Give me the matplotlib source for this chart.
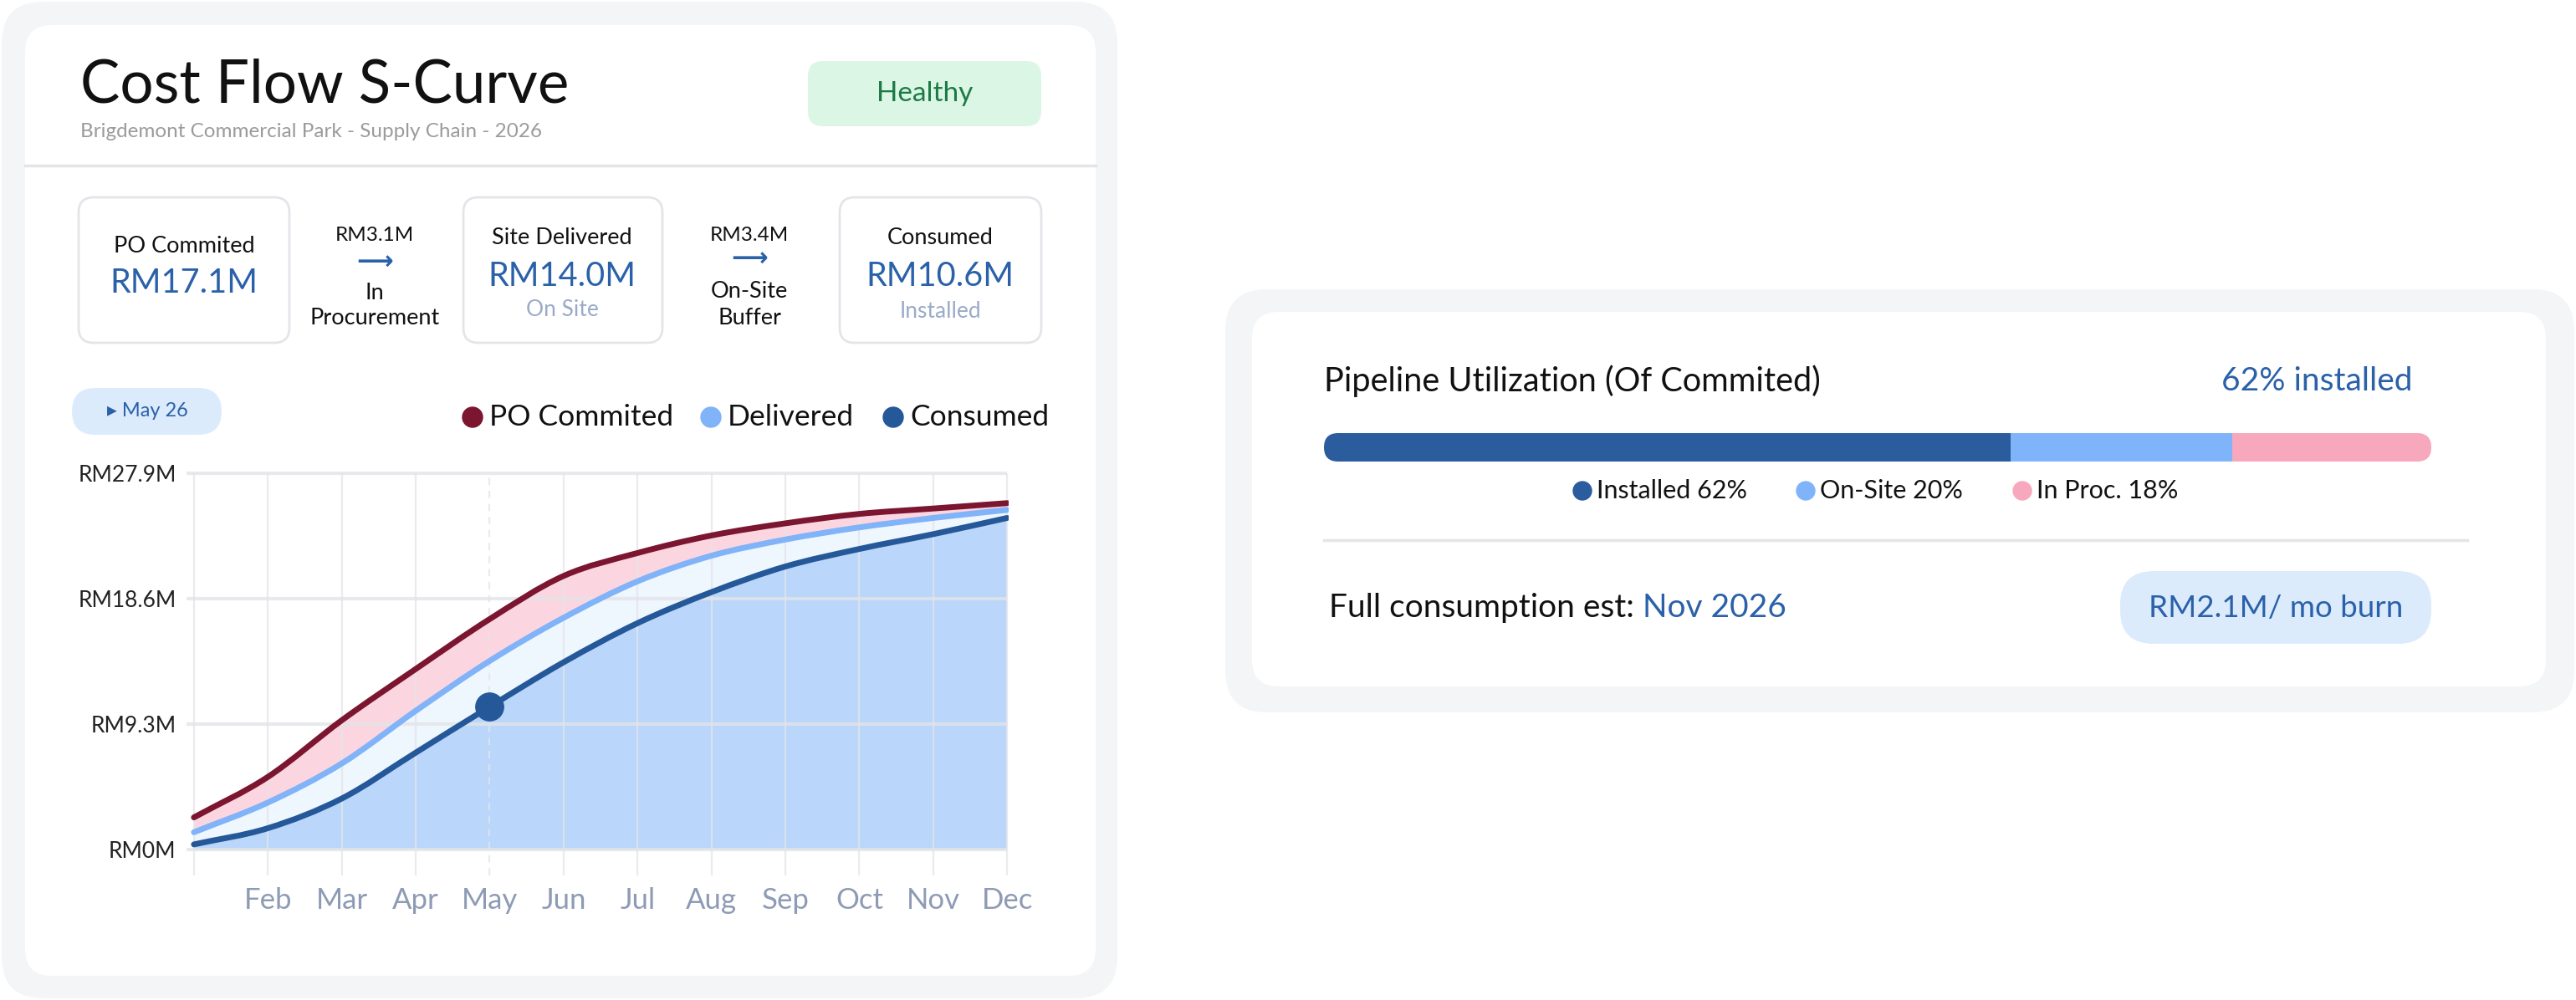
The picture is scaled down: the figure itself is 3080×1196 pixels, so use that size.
import numpy as np
import matplotlib
matplotlib.use("Agg")
import matplotlib.pyplot as plt
from matplotlib.patches import FancyBboxPatch, Circle, PathPatch
from matplotlib.path import Path

plt.rcParams['font.family'] = ['Lato', 'DejaVu Sans']

# ---- data ----
months = ['Jan', 'Feb', 'Mar', 'Apr', 'May', 'Jun', 'Jul', 'Aug', 'Sep', 'Oct', 'Nov', 'Dec']
po_committed = [2.4, 5.4, 9.6, 13.4, 17.1, 20.3, 22.0, 23.3, 24.2, 24.9, 25.3, 25.7]
delivered = [1.3, 3.5, 6.4, 10.3, 14.0, 17.2, 19.9, 21.8, 23.0, 23.9, 24.6, 25.2]
consumed = [0.4, 1.6, 3.8, 7.2, 10.6, 13.9, 16.8, 19.1, 21.0, 22.3, 23.4, 24.6]
y_ticks = [0, 9.3, 18.6, 27.9]
current_month = 4  # May
burn_rate = 2.1
full_consumption = 'Nov 2026'

# colours
C_PO = '#7b1530'
C_DEL = '#80b3f7'
C_CON = '#255899'
C_BLUE_TXT = '#2a61a9'

W, H = 3080, 1196
fig = plt.figure(figsize=(W / 100, H / 100), dpi=100)
fig.patch.set_facecolor('white')

# background axes in pixel units (y down)
bg = fig.add_axes([0, 0, 1, 1])
bg.set_xlim(0, W)
bg.set_ylim(H, 0)
bg.axis('off')


def rbox(x0, y0, x1, y1, r, fc, ec='none', lw=0):
    p = FancyBboxPatch((x0, y0), x1 - x0, y1 - y0,
                       boxstyle=f"round,pad=0,rounding_size={r}",
                       fc=fc, ec=ec, lw=lw)
    bg.add_patch(p)
    return p


def txt(x, y, s, size, color='#111111', ha='center', **kw):
    return bg.text(x, y, s, fontsize=size, color=color, ha=ha, va='center', **kw)


# ---- cards ----
rbox(2, 2, 1336, 1194, 50, '#f4f5f7')
rbox(30, 30, 1310, 1167, 32, 'white')
rbox(1465, 346, 3078, 852, 50, '#f4f5f7')
rbox(1497, 373, 3044, 821, 32, 'white')

# ---- left card header ----
txt(96, 102, 'Cost Flow S-Curve', 51, '#111111', ha='left')
txt(96, 157, 'Brigdemont Commercial Park - Supply Chain - 2026', 17.5, '#9b9b9b', ha='left')
rbox(966, 73, 1245, 151, 18, '#dcf6e6')
txt(1106, 112, 'Healthy', 24, '#1c7a45')
bg.plot([30, 1310], [198, 198], color='#e4e5e8', lw=2.5)

# KPI boxes
po_now = po_committed[current_month]
del_now = delivered[current_month]
con_now = consumed[current_month]
for (x0, x1) in [(94, 346), (554, 792), (1004, 1245)]:
    rbox(x0, 236, x1, 410, 18, 'white', ec='#e3e5e9', lw=2)

txt(220, 295, 'PO Commited', 19.5)
txt(220, 338, f'RM{po_now:.1f}M', 28.5, C_BLUE_TXT)

txt(448, 281, f'RM{po_now - del_now:.1f}M', 17.5)
txt(448, 314, '⟶', 22, C_BLUE_TXT, fontweight='bold')
txt(448, 350, 'In', 19.5)
txt(448, 381, 'Procurement', 19.5)

txt(672, 285, 'Site Delivered', 19.5)
txt(672, 330, f'RM{del_now:.1f}M', 28.5, C_BLUE_TXT)
txt(672, 371, 'On Site', 19, '#9aabc8')

txt(896, 281, f'RM{del_now - con_now:.1f}M', 17.5)
txt(896, 310, '⟶', 22, C_BLUE_TXT, fontweight='bold')
txt(896, 348, 'On-Site', 19.5)
txt(896, 381, 'Buffer', 19.5)

txt(1124, 285, 'Consumed', 19.5)
txt(1124, 330, f'RM{con_now:.1f}M', 28.5, C_BLUE_TXT)
txt(1124, 373, 'Installed', 19, '#9aabc8')

# month pill
rbox(86, 464, 265, 520, 28, '#dcebfc')
txt(176, 492, f'▸ {months[current_month]} 26', 17, C_BLUE_TXT)

# chart legend
for x, lab, c in [(585, 'PO Commited', C_PO), (870, 'Delivered', C_DEL), (1088, 'Consumed', C_CON)]:
    bg.add_patch(Circle((x - 20, 499), 12, color=c))
    txt(x, 499, lab, 25.5, ha='left')

# ---- S-curve axes ----
x_lo, x_hi = -0.1, 11.02
y_lo, y_hi = -1.9, 28.1
px_l, px_r, px_t, px_b = 223, 1206, 563, 1047
ax = fig.add_axes([px_l / W, 1 - px_b / H, (px_r - px_l) / W, (px_b - px_t) / H])
ax.set_xlim(x_lo, x_hi)
ax.set_ylim(y_lo, y_hi)
ax.patch.set_alpha(0)
for s in ax.spines.values():
    s.set_visible(False)

xs = np.arange(len(months), dtype=float)


def hermite_verts(x, y):
    x = np.asarray(x, float)
    y = np.asarray(y, float)
    m = np.gradient(y, x)
    verts = [(x[0], y[0])]
    for i in range(len(x) - 1):
        h = x[i + 1] - x[i]
        verts += [(x[i] + h / 3, y[i] + m[i] * h / 3),
                  (x[i + 1] - h / 3, y[i + 1] - m[i + 1] * h / 3),
                  (x[i + 1], y[i + 1])]
    return verts


def curve_path(x, y):
    v = hermite_verts(x, y)
    return Path(v, [Path.MOVETO] + [Path.CURVE4] * (len(v) - 1))


def band_path(x, upper, lower):
    v1 = hermite_verts(x, upper)
    v2 = hermite_verts(x[::-1], np.asarray(lower)[::-1])
    verts = v1 + v2 + [v1[0]]
    codes = ([Path.MOVETO] + [Path.CURVE4] * (len(v1) - 1) + [Path.LINETO]
             + [Path.CURVE4] * (len(v2) - 1) + [Path.CLOSEPOLY])
    return Path(verts, codes)


ax.add_patch(PathPatch(band_path(xs, consumed, np.zeros(len(xs))), fc='#bad6fa', ec='none', zorder=1))
ax.add_patch(PathPatch(band_path(xs, delivered, consumed), fc='#eef6fe', ec='none', zorder=1))
ax.add_patch(PathPatch(band_path(xs, po_committed, delivered), fc='#fbd6e1', ec='none', zorder=1))

# grid
for i in xs:
    ls = (0, (4, 3)) if i == current_month else '-'
    ax.vlines(i, y_lo, y_ticks[-1], color='#e3e5ea', lw=1.6, ls=ls, alpha=0.75, zorder=2)
ax.hlines(y_ticks, x_lo, xs[-1], color='#e3e4e8', lw=3, alpha=0.8, zorder=2)

for series, c in [(po_committed, C_PO), (delivered, C_DEL), (consumed, C_CON)]:
    ax.add_patch(PathPatch(curve_path(xs, series), fill=False, ec=c, lw=5,
                           capstyle='round', joinstyle='round', zorder=3))
ax.plot(xs[current_month], consumed[current_month], 'o', color=C_CON, ms=24, zorder=4)

ax.set_xticks(xs)
ax.set_xticklabels([''] + months[1:], fontsize=25, color='#8e9bb4')
ax.set_yticks(y_ticks)
ax.set_yticklabels([f'RM{v:g}M' for v in y_ticks], fontsize=19, color='#222222')
ax.tick_params(length=0)
ax.tick_params(axis='x', pad=10)
ax.tick_params(axis='y', pad=9)

# ---- right card: pipeline utilization ----
shares = [con_now, del_now - con_now, po_now - del_now]
pcts = [round(100 * s / po_now) for s in shares]
seg_labels = ['Installed', 'On-Site', 'In Proc.']
seg_colors = ['#2a5c9e', '#80b4fa', '#f8a8bd']

txt(1583, 456, 'Pipeline Utilization (Of Commited)', 28.5, ha='left')
txt(2885, 456, f'{pcts[0]}% installed', 28, C_BLUE_TXT, ha='right')

bx0, bx1, by0, by1 = 1583, 2907, 518, 552
bar_ax = fig.add_axes([bx0 / W, 1 - by1 / H, (bx1 - bx0) / W, (by1 - by0) / H])
bars = bar_ax.barh(0, pcts, left=np.cumsum([0] + pcts[:-1]), height=1.0, color=seg_colors)
bar_ax.set_xlim(0, sum(pcts))
bar_ax.set_ylim(-0.5, 0.5)
bar_ax.axis('off')
clip = FancyBboxPatch((bx0, by0), bx1 - bx0, by1 - by0,
                      boxstyle="round,pad=0,rounding_size=17", transform=bg.transData)
for b in bars:
    b.set_clip_path(clip)

for x, lab, p, c in zip([1909, 2176, 2435], seg_labels, pcts, seg_colors):
    bg.add_patch(Circle((x - 17, 587), 11, color=c))
    txt(x, 587, f'{lab} {p}%', 22, ha='left')

bg.plot([1583, 2950], [646, 646], color='#e4e5e8', lw=2.5)

t1 = txt(1589, 727, 'Full consumption est: ', 28, ha='left')
fig.canvas.draw()
x_end = bg.transData.inverted().transform(t1.get_window_extent().p1)[0]
txt(x_end, 727, full_consumption, 28, C_BLUE_TXT, ha='left')

rbox(2535, 683, 2907, 770, 40, '#dcebfc')
txt(2721, 727, f'RM{burn_rate:.1f}M/ mo burn', 26.5, C_BLUE_TXT)

fig.savefig('out.png', dpi=100, facecolor='white')
